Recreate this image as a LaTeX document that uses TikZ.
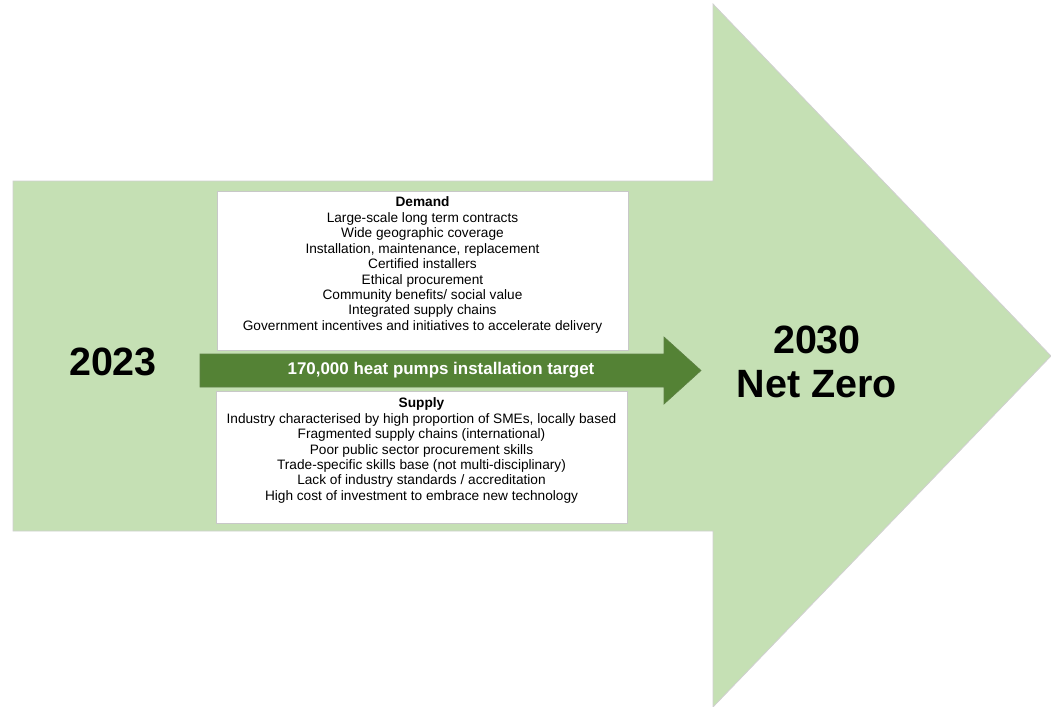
\documentclass[tikz,border=0pt]{standalone}
\usepackage{fontspec}
\setmainfont{Liberation Sans}
\definecolor{lightgreen}{HTML}{C5E0B4}
\definecolor{darkgreen}{HTML}{548235}
\definecolor{edgegray}{HTML}{D0D0D0}
\definecolor{boxgray}{HTML}{C8C8C8}
\begin{document}
\begin{tikzpicture}[x=0.75pt,y=-0.75pt,
  bigarrow/.style={fill=lightgreen,draw=edgegray,line width=0.6pt},
  smallarrow/.style={fill=darkgreen,draw=darkgreen!80!gray,line width=0.5pt},
  infobox/.style={draw=boxgray,fill=white,line width=0.6pt,inner sep=0pt},
  infotext/.style={align=center,inner sep=0pt,font=\fontsize{10.25}{11.6}\selectfont},
  yeartext/.style={align=center,inner sep=0pt,font=\fontsize{29.6}{33}\selectfont\bfseries}]
\useasboundingbox (0,0) rectangle (1051,707);
% big arrow
\draw[bigarrow] (13,181) -- (713,181) -- (713,4) -- (1051,356) -- (713,707) -- (713,531) -- (13,531) -- cycle;
% boxes
\node[infobox,minimum width=411*0.75pt,minimum height=159*0.75pt] (demandbox) at (422.5,270.5) {};
\node[infobox,minimum width=411*0.75pt,minimum height=132*0.75pt] (supplybox) at (421.5,457) {};
\node[infotext] (demand) at (422.5,265) {\textbf{Demand}\\Large-scale long term contracts\\Wide geographic coverage\\Installation, maintenance, replacement\\Certified installers\\Ethical procurement\\Community benefits/ social value\\Integrated supply chains\\Government incentives and initiatives to accelerate delivery};
\node[infotext] (supply) at (421.5,450.5) {\textbf{Supply}\\Industry characterised by high proportion of SMEs, locally based\\Fragmented supply chains (international)\\Poor public sector procurement skills\\Trade-specific skills base (not multi-disciplinary)\\Lack of industry standards / accreditation\\High cost of investment to embrace new technology};
% green arrow
\draw[smallarrow] (200,354) -- (664,354) -- (664,337) -- (701,370.5) -- (664,404) -- (664,387) -- (200,387) -- cycle;
\node[inner sep=0pt,text=white,font=\fontsize{12.7}{14}\selectfont\bfseries] (target) at (441,370.5) {170,000 heat pumps installation target};
% years
\node[yeartext] (start) at (113,362) {2023};
\node[yeartext] (end) at (817,362) {2030\\Net Zero};
\end{tikzpicture}
\end{document}
